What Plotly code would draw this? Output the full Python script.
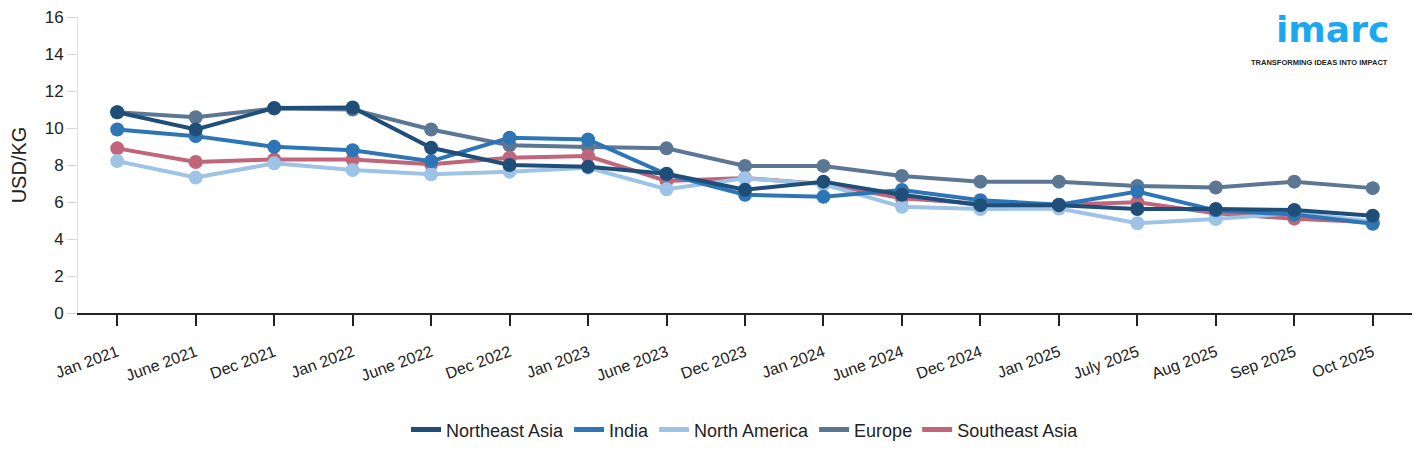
import plotly.graph_objects as go

categories = ["Jan 2021", "June 2021", "Dec 2021", "Jan 2022", "June 2022", "Dec 2022",
              "Jan 2023", "June 2023", "Dec 2023", "Jan 2024", "June 2024", "Dec 2024",
              "Jan 2025", "July 2025", "Aug 2025", "Sep 2025", "Oct 2025"]

northeast_asia = [10.85, 9.92, 11.08, 11.11, 8.93, 8.00, 7.91, 7.53, 6.66, 7.10, 6.39, 5.83, 5.83, 5.62, 5.62, 5.57, 5.26]
india = [9.92, 9.56, 8.98, 8.80, 8.21, 9.47, 9.38, 7.50, 6.39, 6.28, 6.65, 6.10, 5.85, 6.57, 5.55, 5.32, 4.82]
north_america = [8.21, 7.32, 8.09, 7.73, 7.50, 7.64, 7.85, 6.69, 7.28, 6.96, 5.74, 5.62, 5.65, 4.85, 5.08, 5.40, 4.95]
europe = [10.85, 10.58, 11.05, 11.00, 9.92, 9.07, 8.97, 8.90, 7.95, 7.95, 7.41, 7.10, 7.10, 6.87, 6.78, 7.10, 6.75]
southeast_asia = [8.90, 8.16, 8.30, 8.30, 8.04, 8.39, 8.48, 7.14, 7.30, 6.98, 6.20, 5.90, 5.85, 5.98, 5.39, 5.10, 4.90]

series = [
    # (name, values, color, legendrank) drawn bottom to top
    ("Europe", europe, "#5b7793", 4),
    ("Southeast Asia", southeast_asia, "#c0657a", 5),
    ("North America", north_america, "#9dc3e6", 3),
    ("India", india, "#2e75b6", 2),
    ("Northeast Asia", northeast_asia, "#1f4e79", 1),
]

fig = go.Figure()
for name, vals, color, rank in series:
    fig.add_trace(go.Scatter(
        x=categories, y=vals, name=name, mode="lines+markers",
        line=dict(color=color, width=4),
        marker=dict(color=color, size=14),
        showlegend=False, legendgroup=name,
    ))
# legend entries (line-only swatches)
for name, vals, color, rank in series:
    fig.add_trace(go.Scatter(
        x=[None], y=[None], name=name, mode="lines",
        line=dict(color=color, width=5),
        legendrank=rank, legendgroup=name, showlegend=True,
    ))

# page body has an 8px margin, so the figure is offset by 8px
fig.update_layout(
    width=1417, height=447,
    margin=dict(l=70, r=13, t=9, b=142, autoexpand=False),
    paper_bgcolor="white", plot_bgcolor="white",
    font=dict(family="Liberation Sans, Arial, sans-serif", color="#222"),
    showlegend=True,
    legend=dict(orientation="h", x=0.5, xanchor="center", y=-0.395, yanchor="middle",
                font=dict(size=18, color="#222"), itemwidth=30, traceorder="normal",
                tracegroupgap=0),
    xaxis=dict(
        type="category", range=[-0.5, 16.5], automargin=False,
        showline=True, linecolor="#222", linewidth=2,
        ticks="outside", ticklen=11, tickcolor="#222", tickwidth=1.5,
        tickangle=-20, tickfont=dict(size=16, color="#222"),
        ticklabelstandoff=11, ticklabeloverflow="allow",
        showgrid=False, zeroline=False,
    ),
    yaxis=dict(
        range=[0, 16], dtick=2, automargin=False,
        showline=True, linecolor="#e3e3e3", linewidth=1,
        ticks="outside", ticklen=10, tickcolor="#d8d8d8",
        tickfont=dict(size=17, color="#222"), ticklabeloverflow="allow",
        showgrid=False, zeroline=False,
        title=dict(text="USD/KG", font=dict(size=20, color="#222"), standoff=14),
    ),
)

fig.add_annotation(xref="paper", yref="paper", x=0.9835, y=1.03, xanchor="right", yanchor="top",
                   text="<b>imarc</b>", showarrow=False, borderpad=0,
                   font=dict(family="DejaVu Sans, sans-serif", size=36, color="#1ca8f0"))
fig.add_annotation(xref="paper", yref="paper", x=0.9835, y=0.846, xanchor="right", yanchor="middle",
                   text="<b>TRANSFORMING IDEAS INTO IMPACT</b>", showarrow=False,
                   font=dict(family="Liberation Sans, Arial, sans-serif", size=7.5, color="#222"))

fig.write_html("out.html")
